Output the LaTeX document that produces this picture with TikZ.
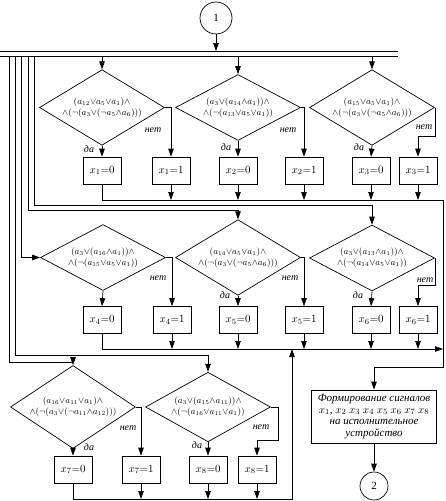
\documentclass[tikz,border=0pt]{standalone}
\usepackage{fontspec}
\setmainfont{Liberation Serif}
\usetikzlibrary{shapes.geometric,arrows.meta}

\begin{document}
\begin{tikzpicture}[x=1pt,y=-1pt,line width=0.7pt,
    >={Triangle[length=8pt,width=5.5pt]},
    cond/.style={draw,diamond,minimum width=125pt,minimum height=65pt,inner sep=-6pt,align=center,font=\fontsize{9}{11}\selectfont},
    setbox/.style={draw,minimum width=38pt,minimum height=27pt,inner sep=0pt,font=\fontsize{11}{13}\selectfont},
    conn/.style={draw,circle,minimum size=#1,inner sep=0pt,font=\fontsize{11}{13}\selectfont},
    lbl/.style={inner sep=0pt,font=\itshape\fontsize{10}{12}\selectfont}]
        \useasboundingbox (0,0) rectangle (445,501);
        \node[conn=32pt] (c1) at (216,18) {1};
        \coordinate (bustop) at (0,51);
        \coordinate (bus) at (0,56);
        \draw (bustop) -- (398,51);
        \draw (bus) -- (398,56);
        \draw[->] (c1) -- (c1 |- bustop);
          \node[cond] (d1) at (102,107.5) {$(a_{12}{\vee}a_5{\vee}a_1){\wedge}$\\$\wedge(\neg(a_3{\vee}(\neg a_5{\wedge}a_6)))$};
          \node[cond] (d2) at (238,107.5) {$(a_3{\vee}(a_{14}{\wedge}a_1)){\wedge}$\\$\wedge(\neg(a_{13}{\vee}a_5{\vee}a_1))$};
          \node[cond] (d3) at (372,107.5) {$(a_{15}{\vee}a_5{\vee}a_1){\wedge}$\\$\wedge(\neg(a_3{\vee}(\neg a_5{\wedge}a_6)))$};
          \node[cond] (d4) at (103,257.5) {$(a_3{\vee}(a_{16}{\wedge}a_1)){\wedge}$\\$\wedge(\neg(a_{15}{\vee}a_5{\vee}a_1))$};
          \node[cond] (d5) at (238,257.5) {$(a_{14}{\vee}a_5{\vee}a_1){\wedge}$\\$\wedge(\neg(a_3{\vee}(\neg a_5{\wedge}a_6)))$};
          \node[cond] (d6) at (372,258) {$(a_3{\vee}(a_{13}{\wedge}a_1)){\wedge}$\\$\wedge(\neg(a_{14}{\vee}a_5{\vee}a_1))$};
          \node[cond] (d7) at (73,407) {$(a_{16}{\vee}a_{11}{\vee}a_1){\wedge}$\\$\wedge(\neg(a_3{\vee}(\neg a_{11}{\wedge}a_{12})))$};
          \node[cond] (d8) at (208,407) {$(a_3{\vee}(a_{15}{\wedge}a_{11})){\wedge}$\\$\wedge(\neg(a_{16}{\vee}a_{11}{\vee}a_1))$};
          \node[setbox] (b10) at (102,170.5) {$x_1{=}0$};
          \node[setbox] (b11) at (171,170.5) {$x_1{=}1$};
          \node[setbox] (b20) at (238,170.5) {$x_2{=}0$};
          \node[setbox] (b21) at (304,170.5) {$x_2{=}1$};
          \node[setbox] (b30) at (371,170.5) {$x_3{=}0$};
          \node[setbox] (b31) at (418,170.5) {$x_3{=}1$};
          \node[setbox] (b40) at (102,320) {$x_4{=}0$};
          \node[setbox] (b41) at (172,320) {$x_4{=}1$};
          \node[setbox] (b50) at (238,320) {$x_5{=}0$};
          \node[setbox] (b51) at (304,320) {$x_5{=}1$};
          \node[setbox] (b60) at (371,320) {$x_6{=}0$};
          \node[setbox] (b61) at (418,320) {$x_6{=}1$};
          \node[setbox] (b70) at (73,469.5) {$x_7{=}0$};
          \node[setbox] (b71) at (141,469.5) {$x_7{=}1$};
          \node[setbox] (b80) at (208,469.5) {$x_8{=}0$};
          \node[setbox] (b81) at (257,469.5) {$x_8{=}1$};
          \node[draw,minimum width=125pt,minimum height=53pt,inner sep=0pt,align=center,font=\itshape\fontsize{11}{11.5}\selectfont] (fin) at (374,416.5) {Формирование сигналов\\$x_1$, $x_2$ $x_3$ $x_4$ $x_5$ $x_6$ $x_7$ $x_8$\\на исполнительное\\устройство};
          \node[conn=28pt] (c2) at (374,486) {2};
        \foreach \d in {d1,d2,d3}
          \draw[->] (\d.north |- bus) -- (\d.north);
        \coordinate (v1) at (9,56);
        \coordinate (v2) at (15,56);
        \coordinate (v3) at (21,56);
        \coordinate (v4) at (28,56);
        \coordinate (v5) at (34,56);
        \coordinate (f6) at (0,205);
        \coordinate (f5) at (0,210);
        \coordinate (f8) at (0,355);
        \coordinate (f7) at (0,362);
        \draw[->] (v5) |- (d6.north |- f6) -- (d6.north);
        \draw[->] (v4) |- (d5.north |- f5) -- (d5.north);
        \draw[->] (v3) |- (d4.west);
        \draw[->] (v2) |- (d8.north |- f8) -- (d8.north);
        \draw[->] (v1) |- (d7.north |- f7) -- (d7.north);
          \draw[->] (d1.south) -- (b10.north);
          \draw[->] (d2.south) -- (b20.north);
          \draw[->] (d3.south) -- (b30.north);
          \draw[->] (d4.south) -- (b40.north);
          \draw[->] (d5.south) -- (b50.north);
          \draw[->] (d6.south) -- (b60.north);
          \draw[->] (d7.south) -- (b70.north);
          \draw[->] (d8.south) -- (b80.north);
          \draw[->] (d1.east) -| (b11.north);
          \draw[->] (d2.east) -| (b21.north);
          \draw[->] (d3.east) -- ++(0,29) -| (b31.north);
          \draw[->] (d4.east) -| (b41.north);
          \draw[->] (d5.east) -| (b51.north);
          \draw[->] (d6.east) -- ++(0,27) -| (b61.north);
          \draw[->] (d7.east) -| (b71.north);
          \draw[->] (d8.east) -- ++(7,0) -- ++(0,33) -| (b81.north);
          \node[lbl] (y1) at (89,149) {да};
          \node[lbl] (y2) at (226,147) {да};
          \node[lbl] (y3) at (359,147) {да};
          \node[lbl] (y5) at (225,295) {да};
          \node[lbl] (y6) at (358,295) {да};
          \node[lbl] (y7) at (89,447) {да};
          \node[lbl] (y8) at (197,445) {да};
          \node[lbl] (n1) at (153,130) {нет};
          \node[lbl] (n2) at (288,130) {нет};
          \node[lbl] (n3) at (424,127) {нет};
          \node[lbl] (n4) at (158,278) {нет};
          \node[lbl] (n5) at (290,278) {нет};
          \node[lbl] (n6) at (425,280) {нет};
          \node[lbl] (n7) at (128,428) {нет};
          \node[lbl] (n8) at (261,427) {нет};
        \coordinate (col1) at (443,200);
        \coordinate (rv) at (443,367);
        \coordinate (col2) at (443,349);
        \coordinate (col3) at (292,499);
        \draw[->] (b10.south) |- (col1) -- (rv) -| (fin.north);
        \foreach \b in {b11,b20,b21,b30,b31}
          \draw[->] (\b.south) -- (\b |- col1);
        \draw[->] (b40.south) |- (col2);
        \foreach \b in {b41,b50,b51,b60,b61}
          \draw[->] (\b.south) -- (\b |- col2);
        \draw[->] (b70.south) |- (col3) -- (col3 |- col2);
        \foreach \b in {b71,b80,b81}
          \draw[->] (\b.south) -- (\b |- col3);
        \draw[->] (fin) -- (c2);
      \end{tikzpicture}
\end{document}
